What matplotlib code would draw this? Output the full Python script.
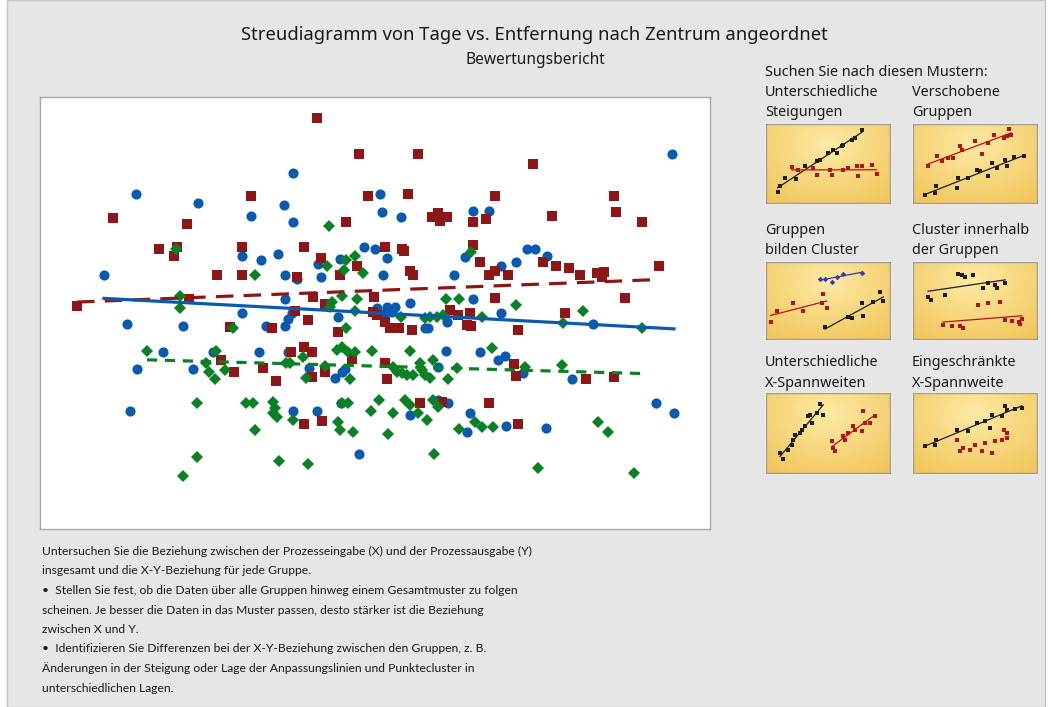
import numpy as np
import matplotlib
matplotlib.use("Agg")
import matplotlib.pyplot as plt
from matplotlib.patches import Rectangle

# ---------------- data (arbitrary units) ----------------
title = "Streudiagramm von Tage vs. Entfernung nach Zentrum angeordnet"
subtitle = "Bewertungsbericht"

# Entfernung (x) , Tage (y) per group
grp_red = [(277,411),(319,375),(378,375),(493,365),(211,333),(328,333),(368,335),(455,333),(574,333),
           (73,311),(147,305),(306,307),(392,312),(398,316),(400,308),(407,312),(433,307),(446,310),
           (512,313),(576,317),(602,307),(119,280),(137,282),(134,273),(202,282),(264,282),(345,282),
           (362,280),(364,278),(433,284),(281,271),(317,263),(440,267),(503,267),(516,263),(529,261),
           (619,263),(370,258),(373,254),(455,258),(449,254),(468,254),(540,254),(557,256),(564,257),
           (562,252),(177,254),(202,254),(257,252),(300,254),(37,223),(149,230),(273,232),(285,225),
           (334,232),(455,231),(585,231),(255,218),(268,209),(333,217),(337,214),(345,207),(350,201),
           (359,201),(372,199),(410,219),(418,214),(430,216),(427,204),(431,203),(478,199),(525,216),
           (190,202),(232,201),(298,197),(251,177),(264,182),(272,177),(312,170),(181,169),(194,157),
           (223,161),(236,148),(272,152),(285,157),(345,166),(347,150),(474,165),(476,153),(546,150),
           (574,152),(264,105),(282,108),(380,126),(402,127),(449,126),(478,105)]

grp_blue = [(253,356),(632,375),(96,335),(340,335),(158,326),(244,324),(211,313),(253,307),(342,317),
            (361,312),(433,318),(449,318),(202,273),(221,269),(238,275),(324,282),(335,280),(347,271),
            (425,272),(487,280),(495,280),(507,273),(476,267),(461,263),(278,265),(300,270),(64,254),
            (245,254),(257,250),(281,252),(343,254),(414,254),(245,230),(337,221),(347,222),(355,222),
            (345,216),(352,217),(370,226),(433,230),(202,216),(248,210),(252,216),(245,203),(298,212),
            (332,217),(407,207),(385,201),(388,201),(461,216),(553,205),(87,205),(143,203),(226,203),
            (123,177),(173,177),(219,177),(248,177),(406,178),(440,177),(458,169),(465,173),(97,160),
            (153,160),(269,161),(295,151),(302,157),(305,160),(398,162),(483,156),(532,150),(90,118),
            (253,118),(277,118),(301,126),(370,114),(398,129),(408,126),(430,116),(427,97),(466,103),
            (506,101),(616,126),(634,116),(319,75)]

grp_green = [(289,303),(136,280),(287,263),(306,269),(315,273),(304,259),(323,256),(431,277),(215,254),
             (140,233),(140,221),(292,227),(302,233),(317,230),(290,222),(315,218),(406,230),(419,230),
             (476,224),(543,218),(523,206),(602,201),(193,201),(306,201),(361,212),(385,211),(390,212),
             (397,212),(403,214),(442,212),(107,178),(176,178),(263,172),(297,179),(302,182),(308,177),
             (315,177),(332,178),(370,178),(452,181),(166,166),(169,157),(175,150),(185,159),(246,166),
             (250,166),(266,151),(285,163),(310,150),(353,162),(357,157),(362,156),(367,154),(373,154),
             (380,166),(382,159),(385,154),(390,151),(393,169),(408,150),(417,161),(485,162),(522,164),
             (157,126),(206,126),(213,126),(233,127),(235,121),(233,116),(237,112),(253,109),(215,99),
             (298,107),(300,99),(313,97),(331,118),(302,126),(308,126),(339,129),(353,116),(365,129),
             (370,124),(378,116),(393,129),(398,122),(387,109),(348,95),(435,107),(442,102),(419,100),
             (453,102),(558,107),(568,97),(157,72),(143,53),(239,68),(268,65),(394,75),(498,61),(594,56)]

body_lines = [
    "Untersuchen Sie die Beziehung zwischen der Prozesseingabe (X) und der Prozessausgabe (Y)",
    "insgesamt und die X-Y-Beziehung für jede Gruppe.",
    "•  Stellen Sie fest, ob die Daten über alle Gruppen hinweg einem Gesamtmuster zu folgen",
    "scheinen. Je besser die Daten in das Muster passen, desto stärker ist die Beziehung",
    "zwischen X und Y.",
    "•  Identifizieren Sie Differenzen bei der X-Y-Beziehung zwischen den Gruppen, z. B.",
    "Änderungen in der Steigung oder Lage der Anpassungslinien und Punktecluster in",
    "unterschiedlichen Lagen.",
]

pattern_header = "Suchen Sie nach diesen Mustern:"
pattern_titles = [
    "Unterschiedliche\nSteigungen", "Verschobene\nGruppen",
    "Gruppen\nbilden Cluster", "Cluster innerhalb\nder Gruppen",
    "Unterschiedliche\nX-Spannweiten", "Eingeschränkte\nX-Spannweite",
]

# thumbnail example data (relative units 0..1)
th1_black = [(0.094,0.135),(0.113,0.211),(0.153,0.316),(0.239,0.308),(0.315,0.464),(0.409,0.527),
             (0.435,0.549),(0.503,0.633),(0.543,0.675),(0.570,0.633),(0.610,0.717),(0.624,0.738),
             (0.691,0.802),(0.718,0.823),(0.772,0.920)]
th1_red = [(0.207,0.456),(0.261,0.422),(0.382,0.443),(0.409,0.359),(0.516,0.422),(0.530,0.359),
           (0.624,0.422),(0.664,0.443),(0.731,0.473),(0.745,0.338),(0.772,0.464),(0.852,0.485),(0.892,0.371)]
th2_red = [(0.122,0.464),(0.197,0.591),(0.230,0.527),(0.284,0.570),(0.324,0.570),(0.378,0.726),
           (0.392,0.675),(0.500,0.781),(0.554,0.624),(0.608,0.759),(0.657,0.865),(0.730,0.823),
           (0.757,0.844),(0.776,0.937),(0.792,0.865)]
th2_black = [(0.095,0.105),(0.176,0.127),(0.189,0.211),(0.351,0.190),(0.365,0.316),(0.446,0.316),
             (0.514,0.422),(0.541,0.401),(0.608,0.338),(0.635,0.506),(0.676,0.443),(0.743,0.549),
             (0.757,0.464),(0.811,0.582),(0.892,0.591)]
th3_blue = [(0.435,0.777),(0.476,0.785),(0.530,0.742),(0.570,0.807),(0.624,0.850),(0.772,0.863)]
th3_red = [(0.038,0.227),(0.086,0.369),(0.220,0.472),(0.301,0.369),(0.462,0.579),(0.449,0.464),(0.489,0.399)]
th3_black = [(0.476,0.155),(0.664,0.292),(0.691,0.279),(0.785,0.305),(0.772,0.464),(0.866,0.476),
             (0.919,0.614),(0.946,0.498)]
th4_black = [(0.122,0.541),(0.143,0.506),(0.257,0.571),(0.365,0.850),(0.392,0.828),(0.419,0.807),
             (0.486,0.828),(0.568,0.657),(0.608,0.721),(0.662,0.700),(0.676,0.657),(0.743,0.721)]
th4_red = [(0.527,0.442),(0.608,0.472),(0.703,0.485),(0.243,0.185),(0.311,0.163),(0.378,0.163),
           (0.405,0.142),(0.743,0.249),(0.797,0.236),(0.851,0.215),(0.878,0.258),(0.865,0.193)]
th5_black = [(0.113,0.250),(0.140,0.175),(0.180,0.292),(0.207,0.354),(0.220,0.417),(0.234,0.479),
             (0.274,0.500),(0.288,0.542),(0.315,0.583),(0.341,0.708),(0.368,0.625),(0.355,0.729),
             (0.409,0.750),(0.435,0.867),(0.462,0.729)]
th5_red = [(0.530,0.396),(0.543,0.313),(0.556,0.271),(0.624,0.458),(0.637,0.417),(0.664,0.500),
           (0.704,0.583),(0.718,0.542),(0.772,0.521),(0.785,0.771),(0.798,0.625),(0.839,0.625),(0.879,0.708)]
th6_black = [(0.095,0.342),(0.176,0.354),(0.189,0.417),(0.351,0.542),(0.446,0.521),(0.514,0.625),
             (0.581,0.646),(0.635,0.729),(0.622,0.563),(0.716,0.708),(0.743,0.833),(0.757,0.792),
             (0.824,0.800),(0.878,0.813)]
th6_red = [(0.351,0.417),(0.378,0.271),(0.405,0.313),(0.459,0.292),(0.500,0.354),(0.554,0.271),
           (0.581,0.375),(0.635,0.250),(0.662,0.396),(0.716,0.417),(0.730,0.542),(0.757,0.438),(0.757,0.500)]

# ---------------- layout / style ----------------
W, H = 1051, 707
FONT = "Noto Sans"
FONT_BODY = "Lato"
TXT = "#1a1a1a"
C_BLUE, C_RED, C_GREEN = "#0a5bb0", "#8e1616", "#0b8126"
T_BLACK, T_RED, T_BLUE = "#1e1e1e", "#b3141a", "#3a3aa8"

fig = plt.figure(figsize=(W / 100, H / 100), dpi=100)
fig.patch.set_facecolor("white")


def fx(x):
    return x / W


def fy(y):
    return 1 - y / H


def fig_axes(x0, y0, x1, y1):
    return fig.add_axes([fx(x0), fy(y1), (x1 - x0) / W, (y1 - y0) / H])


# gray report panel (behind everything)
fig.patches.append(Rectangle((fx(7), 0), fx(1045) - fx(7), 1, transform=fig.transFigure,
                             facecolor="#e6e6e6", edgecolor="#c4c4c4", lw=1, zorder=-10))

renderer = fig.canvas.get_renderer()


def fit_width(t, target):
    w = t.get_window_extent(renderer).width
    t.set_fontsize(t.get_fontsize() * target / w)
    return t.get_fontsize()


# titles
t = fig.text(fx(534.5), fy(35), title, ha="center", va="center", fontsize=12, family=FONT, color=TXT)
fit_width(t, 583)
t = fig.text(fx(535), fy(60), subtitle, ha="center", va="center", fontsize=10, family=FONT, color=TXT)
fit_width(t, 139)

# ---------------- main scatter ----------------
ax = fig_axes(40, 97, 710, 529)
ax.set_facecolor("white")
ax.set_xlim(0, 670)
ax.set_ylim(0, 432)
ax.set_xticks([])
ax.set_yticks([])
for s in ax.spines.values():
    s.set_color("#a8a8a8")
    s.set_linewidth(1.0)


def xy(pts):
    a = np.array(pts, dtype=float)
    return a[:, 0], a[:, 1]


def fit_line(axis, pts, **kw):
    x, y = xy(pts)
    b, a = np.polyfit(x, y, 1)
    xs = np.array([x.min(), x.max()])
    axis.plot(xs, a + b * xs, **kw)


bx, by = xy(grp_blue)
rx, ry = xy(grp_red)
gx, gy = xy(grp_green)
ax.plot(bx, by, "o", color=C_BLUE, ms=7.3, mew=0, zorder=2)
ax.plot(rx, ry, "s", color=C_RED, ms=7.0, mew=0, zorder=3)
ax.plot(gx, gy, "D", color=C_GREEN, ms=6.3, mew=0, zorder=4)
fit_line(ax, grp_red, color=C_RED, lw=2.3, dashes=(5.5, 3.2), zorder=5, solid_capstyle="butt")
fit_line(ax, grp_blue, color=C_BLUE, lw=2.3, zorder=5)
fit_line(ax, grp_green, color=C_GREEN, lw=2.3, dashes=(3.2, 2.4), zorder=5)

# ---------------- body text ----------------
line_y = [551.5, 571, 590.5, 610, 629.5, 649, 668.5, 688]
t0 = fig.text(fx(42), fy(line_y[0]), body_lines[0], ha="left", va="center", fontsize=9,
              family=FONT_BODY, color=TXT)
fs_body = fit_width(t0, 491)
for ln, yy in zip(body_lines[1:], line_y[1:]):
    fig.text(fx(42), fy(yy), ln, ha="left", va="center", fontsize=fs_body, family=FONT_BODY, color=TXT)

# ---------------- pattern panel ----------------
th = fig.text(fx(765), fy(73), pattern_header, ha="left", va="center", fontsize=10,
              family=FONT, color=TXT)
fs_pan = fit_width(th, 223)

label_pos = [(765, 93), (912, 93), (765, 230), (912, 230), (765, 363), (912, 363)]
for lab, (lx, ly) in zip(pattern_titles, label_pos):
    for k, part in enumerate(lab.split("\n")):
        fig.text(fx(lx), fy(ly + 20 * k), part, ha="left", va="center", fontsize=fs_pan,
                 family=FONT, color=TXT)

boxes = [(766, 124, 890, 203), (913, 124, 1037, 203),
         (766, 262, 890, 339), (913, 262, 1037, 339),
         (766, 393, 890, 473), (913, 393, 1037, 473)]

# yellow gradient image
gy_, gx_ = np.mgrid[0:1:80j, 0:1:120j]
r = np.sqrt(((gx_ - 0.5) / 0.75) ** 2 + ((gy_ - 0.25) / 0.9) ** 2)
r = np.clip(r, 0, 1)[..., None]
light = np.array([253, 234, 165]) / 255
dark = np.array([242, 198, 92]) / 255
grad = light * (1 - r) + dark * r

thumb_sets = [
    [(th1_black, T_BLACK, "s", True), (th1_red, T_RED, "s", True)],
    [(th2_red, T_RED, "s", True), (th2_black, T_BLACK, "s", True)],
    [(th3_blue, T_BLUE, "D", True), (th3_red, T_RED, "s", True), (th3_black, T_BLACK, "s", True)],
    [(th4_black, T_BLACK, "s", True), (th4_red, T_RED, "s", True)],
    [(th5_black, T_BLACK, "s", True), (th5_red, T_RED, "s", True)],
    [(th6_black, T_BLACK, "s", True), (th6_red, T_RED, "s", False)],
]

for (x0, y0, x1, y1), sets in zip(boxes, thumb_sets):
    fig.patches.append(Rectangle((fx(x0 - 1), fy(y1 + 2)), (x1 - x0 + 3) / W, (y1 - y0 + 3) / H,
                                 transform=fig.transFigure, facecolor="white",
                                 edgecolor="none", zorder=-5))
    tax = fig_axes(x0, y0, x1, y1)
    tax.imshow(grad, extent=(0, 1, 0, 1), origin="upper", aspect="auto", zorder=0)
    tax.set_xlim(0, 1)
    tax.set_ylim(0, 1)
    tax.set_xticks([])
    tax.set_yticks([])
    for s in tax.spines.values():
        s.set_color("#9c9c9c")
        s.set_linewidth(1.0)
    for pts, col, mk, with_line in sets:
        px, py = xy(pts)
        tax.plot(px, py, mk, color=col, ms=3.3 if mk == "s" else 2.8, mew=0, zorder=3)
        if with_line:
            fit_line(tax, pts, color=col, lw=0.9, zorder=2)

fig.savefig("out.png", dpi=100, facecolor=fig.get_facecolor())
